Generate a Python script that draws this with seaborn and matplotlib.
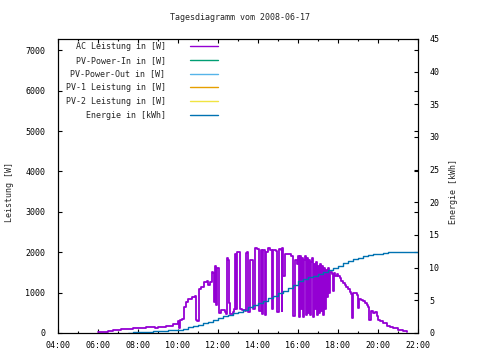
import numpy as np
import pandas as pd
import matplotlib
matplotlib.use("Agg")
import matplotlib.pyplot as plt
import seaborn as sns
from matplotlib.lines import Line2D
from matplotlib.ticker import MultipleLocator, FuncFormatter

# AC Leistung in [W] (time, watts)
ac_time = [
    "06:00", "06:30", "06:45", "07:10", "07:45", "08:25", "08:50", "09:00", "09:10", "09:25",
    "09:45", "10:00", "10:03", "10:06", "10:12", "10:18", "10:24", "10:30", "10:42", "10:51",
    "10:55", "10:58", "11:02", "11:10", "11:18", "11:26", "11:30", "11:36", "11:41", "11:45",
    "11:47", "11:50", "11:53", "11:56", "11:59", "12:03", "12:10", "12:20", "12:25", "12:28",
    "12:31", "12:34", "12:36", "12:45", "12:48", "12:50", "12:55", "12:58", "13:03", "13:06",
    "13:12", "13:20", "13:23", "13:28", "13:30", "13:36", "13:40", "13:45", "13:51", "13:57",
    "14:02", "14:08", "14:12", "14:15", "14:18", "14:20", "14:23", "14:30", "14:36", "14:41",
    "14:44", "14:55", "14:58", "15:03", "15:09", "15:11", "15:13", "15:16", "15:20", "15:25",
    "15:35", "15:40", "15:46", "15:52", "15:57", "16:00", "16:03", "16:06", "16:09", "16:12",
    "16:15", "16:18", "16:21", "16:24", "16:27", "16:30", "16:33", "16:36", "16:39", "16:42",
    "16:45", "16:48", "16:51", "16:54", "16:57", "17:00", "17:03", "17:06", "17:09", "17:12",
    "17:15", "17:18", "17:21", "17:24", "17:27", "17:30", "17:33", "17:36", "17:42", "17:45",
    "17:48", "17:51", "17:57", "18:00", "18:05", "18:09", "18:15", "18:20", "18:25", "18:30",
    "18:36", "18:40", "18:42", "18:45", "18:52", "18:57", "19:01", "19:03", "19:10", "19:16",
    "19:20", "19:26", "19:30", "19:34", "19:38", "19:44", "19:52", "19:56", "20:00", "20:06",
    "20:16", "20:26", "20:36", "20:46", "21:00", "21:16", "21:26", "21:28",
]
ac_watt = [
    20, 50, 75, 100, 115, 140, 135, 150, 160, 185,
    215, 290, 120, 330, 350, 640, 780, 830, 880, 920,
    330, 300, 1090, 1150, 1260, 1300, 1200, 1260, 1500, 1480,
    770, 1650, 700, 1600, 1620, 500, 560, 520, 480, 1850,
    1820, 740, 480, 520, 600, 1950, 600, 2000, 2000, 600,
    560, 550, 1980, 2000, 520, 1820, 1800, 600, 2100, 2080,
    540, 2050, 480, 2050, 2050, 450, 2000, 2100, 2050, 600,
    2050, 2030, 520, 2080, 2050, 550, 2100, 1400, 1950, 1950,
    1950, 1900, 420, 1800, 1700, 1900, 400, 1900, 600, 1850,
    400, 1800, 1900, 450, 1850, 500, 1800, 450, 1750, 1850,
    400, 1700, 600, 1750, 450, 1650, 500, 1700, 550, 1650,
    450, 1600, 600, 1550, 900, 1600, 1000, 1500, 1450, 1050,
    1480, 1400, 1450, 1400, 1350, 1300, 1250, 1200, 1150, 1100,
    1020, 960, 360, 1000, 1000, 950, 620, 830, 820, 800,
    750, 700, 650, 330, 550, 500, 520, 410, 330, 290,
    250, 180, 150, 125, 85, 50, 20, 20,
]

# Energie in [kWh]
en_time = [
    "07:30", "07:45", "08:00", "08:15", "08:30", "08:45", "09:00", "09:15", "09:30", "09:45",
    "10:00", "10:15", "10:30", "10:45", "11:00", "11:15", "11:30", "11:45", "12:00", "12:15",
    "12:30", "12:45", "13:00", "13:15", "13:30", "13:45", "14:00", "14:15", "14:30", "14:45",
    "15:00", "15:15", "15:30", "15:45", "16:00", "16:15", "16:30", "16:45", "17:00", "17:15",
    "17:30", "17:45", "18:00", "18:15", "18:30", "18:45", "19:00", "19:15", "19:30", "19:45",
    "20:00", "20:15", "20:30", "20:45", "21:00", "22:00",
]
en_kwh = [
    0.05, 0.08, 0.1, 0.15, 0.2, 0.25, 0.3, 0.35, 0.4, 0.45,
    0.5, 0.65, 0.85, 1.05, 1.25, 1.5, 1.75, 2.05, 2.35, 2.6,
    2.8, 3.0, 3.2, 3.55, 3.95, 4.25, 4.6, 4.95, 5.3, 5.7,
    6.1, 6.5, 6.9, 7.4, 7.9, 8.2, 8.5, 8.8, 9.1, 9.4,
    9.7, 10.0, 10.3, 10.65, 11.0, 11.3, 11.55, 11.75, 11.95, 12.05,
    12.15, 12.25, 12.35, 12.4, 12.45, 12.45,
]

labels = ["AC Leistung in [W]", "PV-Power-In in [W]", "PV-Power-Out in [W]",
          "PV-1 Leistung in [W]", "PV-2 Leistung in [W]", "Energie in [kWh]"]
colors = ["#9400D3", "#009E73", "#56B4E9", "#E69F00", "#F0E442", "#0072B2"]


def to_hours(ts):
    return [int(t[:2]) + int(t[3:]) / 60 for t in ts]


ac = pd.DataFrame({"h": to_hours(ac_time), "w": ac_watt})
en = pd.DataFrame({"h": to_hours(en_time), "kwh": en_kwh})

sns.set_style("ticks")
plt.rcParams['font.family'] = ['DejaVu Sans Mono']
plt.rcParams['font.size'] = 6

fig = plt.figure(figsize=(4.8, 3.6), dpi=100)
ax = fig.add_axes([58 / 480, 27 / 360, 360 / 480, 294 / 360])
ax2 = ax.twinx()

sns.lineplot(data=ac, x="h", y="w", ax=ax, color=colors[0], lw=1.3,
             drawstyle="steps-post", estimator=None, sort=False)
sns.lineplot(data=en, x="h", y="kwh", ax=ax2, color=colors[5], lw=1.0,
             drawstyle="steps-post", estimator=None, sort=False)

ax.set_xlim(4, 22)
ax.set_ylim(0, 7280)
ax2.set_ylim(0, 45)
ax.set_xlabel("")
ax.set_ylabel("")
ax2.set_ylabel("")

ax.xaxis.set_major_locator(MultipleLocator(2))
ax.xaxis.set_minor_locator(MultipleLocator(1))
ax.xaxis.set_major_formatter(FuncFormatter(lambda v, p: f"{int(v):02d}:00"))
ax.yaxis.set_major_locator(MultipleLocator(1000))
ax2.yaxis.set_major_locator(MultipleLocator(5))

ax.tick_params(which="both", direction="in", top=True, right=True, labelsize=6,
               colors="black", width=0.8)
ax.tick_params(which="major", length=3)
ax.tick_params(which="minor", length=1.5)
ax.tick_params(axis="y", pad=9)
ax.tick_params(axis="x", pad=6)
ax2.tick_params(direction="in", length=3, width=0.8, labelsize=6, pad=8, colors="black")

for a in (ax, ax2):
    for s in a.spines.values():
        s.set_visible(True)
        s.set_linewidth(0.8)
        s.set_color("black")

handles = [Line2D([], [], color=c, lw=1.0) for c in colors]
leg = fig.legend(handles, labels, loc="upper right", markerfirst=False,
                 bbox_to_anchor=(218 / 480, 1 - 42 / 360), bbox_transform=fig.transFigure,
                 frameon=False, borderpad=0, borderaxespad=0, handlelength=3.4,
                 handletextpad=2.9, labelspacing=0.57, fontsize=6)

fig.text(240 / 480, 1 - 18 / 360, "Tagesdiagramm vom 2008-06-17", ha="center",
         va="center", fontsize=6)
fig.text(10 / 480, 1 - 192 / 360, "Leistung [W]", rotation=90, ha="center",
         va="center", fontsize=6)
fig.text(453 / 480, 1 - 192 / 360, "Energie [kWh]", rotation=90, ha="center",
         va="center", fontsize=6)

fig.savefig("out.png", dpi=100)
